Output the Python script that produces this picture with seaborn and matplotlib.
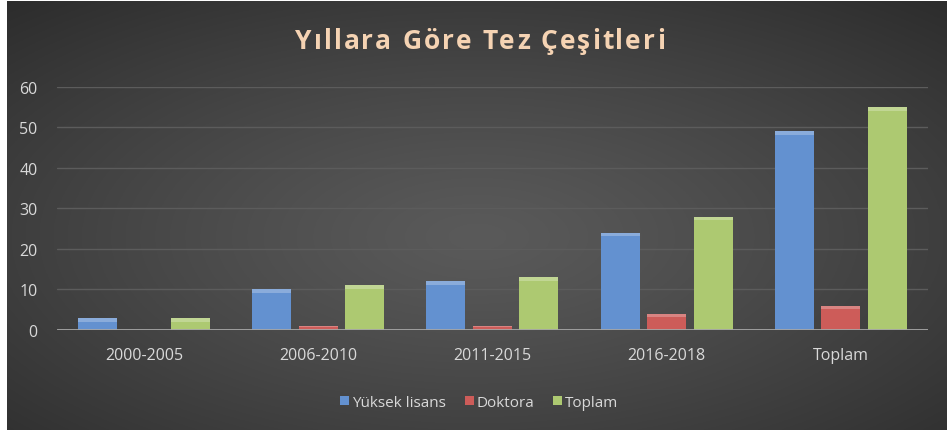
import numpy as np
import pandas as pd
import matplotlib.pyplot as plt
import seaborn as sns
from matplotlib.patches import Rectangle

categories = ["2000-2005", "2006-2010", "2011-2015", "2016-2018", "Toplam"]
yuksek_lisans = [3, 10, 12, 24, 49]
doktora = [0, 1, 1, 4, 6]
toplam = [3, 11, 13, 28, 55]
series_names = ["Yüksek lisans", "Doktora", "Toplam"]
y_ticks = [0, 10, 20, 30, 40, 50, 60]
title = "Yıllara Göre Tez Çeşitleri"

df = pd.DataFrame({
    "kategori": categories * 3,
    "seri": [series_names[0]] * 5 + [series_names[1]] * 5 + [series_names[2]] * 5,
    "deger": yuksek_lisans + doktora + toplam,
})

sns.set_style("dark")
plt.rcParams["font.family"] = ["Open Sans", "DejaVu Sans"]

fig = plt.figure(figsize=(9.47, 4.31), dpi=100)
fig.patch.set_facecolor("white")

# radial gradient background
bg = fig.add_axes([7 / 947, 0, 940 / 947, 429 / 431])
yy, xx = np.mgrid[0:1:300j, 0:1:600j]
r = np.sqrt(((xx - 0.5) / 0.75) ** 2 + ((yy - 0.55) / 0.75) ** 2)
r = np.clip(r, 0, 1)
c0, c1 = 0x5a / 255, 0x2c / 255
img = c0 + (c1 - c0) * r ** 1.2
bg.imshow(np.dstack([img, img, img]), aspect="auto", extent=[0, 1, 0, 1])
bg.set_axis_off()

ax = fig.add_axes([0.060, 0.232, 0.920, 0.564])
ax.patch.set_alpha(0)

palette = ["#6391d0", "#cd5c59", "#adc971"]
sns.barplot(data=df, x="kategori", y="deger", hue="seri", palette=palette,
            width=0.8, gap=0.16, ax=ax, saturation=1, zorder=3,
            edgecolor="none", legend=True)

# light bevel on top of each bar
for bar in ax.patches:
    h = bar.get_height()
    if h > 0:
        bh = min(0.9, h * 0.3)
        ax.add_patch(Rectangle((bar.get_x(), h - bh), bar.get_width(), bh,
                               facecolor="white", alpha=0.25, edgecolor="none", zorder=4))

ax.set_ylim(0, 60)
ax.set_xlim(-0.5, 4.5)
ax.set_yticks(y_ticks)
ax.grid(axis="y", color="#5c5c5c", linewidth=1, zorder=0)
ax.grid(axis="x", visible=False)
ax.axhline(0, color="#a6a6a6", linewidth=2, zorder=5)
for s in ax.spines.values():
    s.set_visible(False)
ax.tick_params(axis="both", length=0, colors="#d9d9d9", labelsize=11.5)
ax.tick_params(axis="y", pad=14)
ax.tick_params(axis="x", pad=12)
ax.set_xlabel("")
ax.set_ylabel("")

leg = ax.legend(loc="upper center", bbox_to_anchor=(0.485, -0.21), ncol=3, frameon=False,
                fontsize=11, handlelength=0.6, handleheight=0.6, handletextpad=0.2,
                columnspacing=1.2)
for t in leg.get_texts():
    t.set_color("#d9d9d9")

# title with letter spacing, drawn char by char
renderer = fig.canvas.get_renderer()
spacing = 2.0  # px between letters
widths = []
for ch in title:
    t = fig.text(0, 0, ch, fontsize=19, fontweight="bold")
    w = t.get_window_extent(renderer).width if ch != " " else 7
    widths.append(w)
    t.remove()
total = sum(widths) + spacing * (len(title) - 1)
x = 480 - total / 2
for ch, w in zip(title, widths):
    fig.text(x / 947, 0.903, ch, ha="left", va="center", fontsize=19,
             fontweight="bold", color="#f5d3b3")
    x += w + spacing

fig.savefig("out.png", dpi=100, facecolor=fig.get_facecolor())
